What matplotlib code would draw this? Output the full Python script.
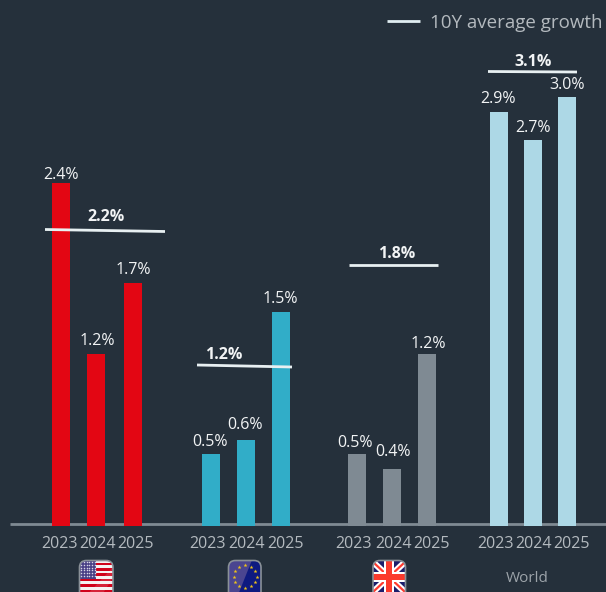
import numpy as np
import matplotlib
matplotlib.use('Agg')
import matplotlib.pyplot as plt
from matplotlib.patches import FancyBboxPatch, Rectangle, Polygon

plt.rcParams['font.family'] = ['Open Sans', 'DejaVu Sans']

# valores
years = ['2023', '2024', '2025']
groups = ['US', 'EU', 'UK', 'World']
us_values = [2.4, 1.2, 1.7]
eu_values = [0.5, 0.6, 1.5]
uk_values = [0.5, 0.4, 1.2]
world_values = [2.9, 2.7, 3.0]
avg_values = [2.2, 1.2, 1.8, 3.1]
legend_text = '10Y average growth'

BG = '#25303b'
all_values = [us_values, eu_values, uk_values, world_values]
colors = ['#e30613', '#31adc8', '#7f8a93', '#add8e6']
centers = [[61, 96, 133], [211, 246, 281], [357, 392, 427], [499, 533, 567]]
year_x = [[59, 97, 136], [208, 246.5, 285], [354, 393, 431], [495, 534, 572]]
label_x = [[61.5, 97, 133], [210, 245, 280.5], [355, 393, 428], [498, 533, 567]]
label_py = [[173, 339, 268], [440, 423, 297], [441, 450, 342], [97, 126, 83]]
avg_x = [(45, 165), (197, 292), (349, 438), (488, 577)]
avg_py = [(229.5, 231.5), (365, 367), (264.5, 264.5), (71.5, 72)]
avg_lx = [106, 224, 397, 533]
avg_ly = [215, 353, 252, 60]

fig = plt.figure(figsize=(6.06, 5.92), dpi=100, facecolor=BG)
ax = fig.add_axes([0, 0, 1, 1])
base_py = 525.7
scale = 142.8
ax.set_xlim(0, 606)
ax.set_ylim((base_py - 592) / scale, base_py / scale)
ax.axis('off')

def val(py):
    return (base_py - py) / scale

# barras e rotulos
for g in range(4):
    ax.bar(centers[g], all_values[g], width=18, color=colors[g], zorder=2)
    for i in range(3):
        ax.text(label_x[g][i], val(label_py[g][i]), f'{all_values[g][i]:.1f}%', color='#f2f4f5',
                fontsize=11.5, ha='center', va='center_baseline')
        ax.text(year_x[g][i], val(542), years[i], color='#b4babf', fontsize=11.5,
                ha='center', va='center_baseline')
    ax.plot(avg_x[g], [val(p) for p in avg_py[g]], color='#e8f0f2', lw=2, zorder=3,
            solid_capstyle='butt')
    ax.text(avg_lx[g], val(avg_ly[g]), f'{avg_values[g]:.1f}%', color='#f2f4f5', fontsize=11.5,
            fontweight='bold', ha='center', va='center_baseline')

# linha de base
ax.plot([10, 606], [val(524.3), val(524.3)], color='#7f8a93', lw=2, zorder=1, solid_capstyle='butt')

# legenda
ax.plot([387, 420], [val(21), val(21)], color='#e0edf1', lw=2, solid_capstyle='butt')
ax.text(430, val(21), legend_text, color='#b4babf', fontsize=13.5, ha='left', va='center_baseline')
ax.text(527, val(577), groups[3], color='#9da4aa', fontsize=11, ha='center', va='center_baseline')

# bandeiras em coordenadas de pixel
ov = fig.add_axes([0, 0, 1, 1], facecolor='none')
ov.set_xlim(0, 606)
ov.set_ylim(592, 0)
ov.axis('off')

def flag_box(x0, x1, y0, y1):
    clip = FancyBboxPatch((x0 + 7, y0 + 7), x1 - x0 - 14, y1 - y0 - 14,
                          boxstyle='round,pad=7', fc='none', ec='#8a9198', lw=1.2, zorder=9)
    ov.add_patch(clip)
    return clip

def add(p, clip):
    ov.add_patch(p)
    p.set_clip_path(clip)

# EUA
clip = flag_box(79.5, 113, 560.5, 600)
add(Rectangle((79, 560), 35, 40, fc='#f4f1f2', zorder=5), clip)
for i in range(0, 7):
    add(Rectangle((79, 562.5 + i * 5.4), 35, 2.7, fc='#d0021b', zorder=5), clip)
add(Rectangle((79, 560), 17, 18.5, fc='#4a4186', zorder=6), clip)
sx, sy = np.meshgrid(np.arange(81, 96, 2.8), np.arange(562, 578, 2.8))
ov.scatter(sx.ravel(), sy.ravel(), s=1.2, c='#d8d6e6', lw=0, zorder=7)
add(Polygon([[84, 598], [114, 566], [114, 576], [100, 598]], fc='white', alpha=0.13, zorder=8), clip)

# UE
clip = flag_box(228.5, 261, 560.5, 600)
add(Rectangle((228, 560), 34, 40, fc='#0e1a80', zorder=5), clip)
add(Polygon([[228, 560], [252, 560], [236, 600], [228, 600]], fc='#4a4590', zorder=6), clip)
ang = np.linspace(0, 2 * np.pi, 12, endpoint=False)
ov.scatter(245 + 11.5 * np.cos(ang), 576.5 + 11.5 * np.sin(ang), s=9, marker='*',
           c='#f0c419', lw=0, zorder=7)

# Reino Unido
clip = flag_box(373, 405.5, 560.5, 600)
add(Rectangle((372, 560), 34, 40, fc='#1b1d6b', zorder=5), clip)
for a, b in [((373, 562), (405, 592)), ((405, 562), (373, 592))]:
    ln, = ov.plot([a[0], b[0]], [a[1], b[1]], color='white', lw=4.5, zorder=6)
    ln.set_clip_path(clip)
    ln, = ov.plot([a[0], b[0]], [a[1], b[1]], color='#ff3b30', lw=1.6, zorder=7)
    ln.set_clip_path(clip)
add(Rectangle((384, 560), 10, 40, fc='white', zorder=7), clip)
add(Rectangle((372, 572), 34, 10, fc='white', zorder=7), clip)
add(Rectangle((386, 560), 6, 40, fc='#fb3a2c', zorder=8), clip)
add(Rectangle((372, 574), 34, 6, fc='#fb3a2c', zorder=8), clip)

fig.savefig('out.png', dpi=100, facecolor=BG)
